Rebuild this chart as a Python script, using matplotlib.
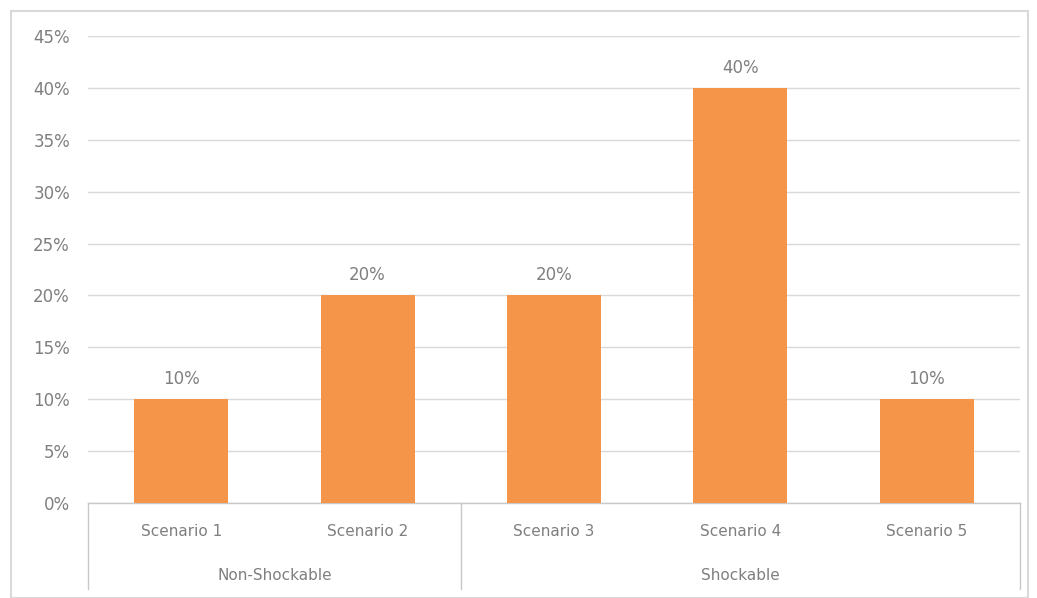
import matplotlib.pyplot as plt
from matplotlib.patches import Rectangle
from matplotlib.lines import Line2D

scenarios = ['Scenario 1', 'Scenario 2', 'Scenario 3', 'Scenario 4', 'Scenario 5']
values = [10, 20, 20, 40, 10]
groups = ['Non-Shockable', 'Shockable']
group_sizes = [2, 3]
yticks = [0, 5, 10, 15, 20, 25, 30, 35, 40, 45]

bar_color = '#F5954A'
text_color = '#7F7F7F'
grid_color = '#D9D9D9'

fig = plt.figure(figsize=(10.37, 5.98), dpi=100)
ax = fig.add_axes([88 / 1037, 1 - 503 / 598, (1020 - 88) / 1037, (503 - 36) / 598])

x = list(range(len(scenarios)))
ax.bar(x, values, width=0.505, color=bar_color, zorder=3)
ax.set_xlim(-0.5, len(scenarios) - 0.5)
ax.set_ylim(0, 45)
ax.set_yticks(yticks)
ax.set_yticklabels([f'{v}%' for v in yticks], color=text_color, fontsize=12)
ax.tick_params(axis='y', length=0, pad=13)
ax.set_xticks([])
ax.grid(axis='y', color=grid_color, linewidth=1, zorder=0)
for s in ['top', 'right', 'left']:
    ax.spines[s].set_visible(False)
ax.spines['bottom'].set_color('#C8C8C8')
ax.spines['bottom'].set_linewidth(1)

for xi, v in zip(x, values):
    ax.annotate(f'{v}%', (xi, v), xytext=(0, 8), textcoords='offset points',
                ha='center', va='bottom', color=text_color, fontsize=12)

# category labels and group labels below the axis
trans = ax.get_xaxis_transform()
for xi, name in zip(x, scenarios):
    ax.text(xi, -29 / 467, name, transform=trans, ha='center', va='center',
            color=text_color, fontsize=11)

start = -0.5
seps = [start]
for g, n in zip(groups, group_sizes):
    end = start + n
    ax.text((start + end) / 2, -72 / 467, g, transform=trans, ha='center', va='center',
            color=text_color, fontsize=11)
    seps.append(end)
    start = end
for s in seps:
    ax.add_line(Line2D([s, s], [0, -86 / 467], transform=trans, color='#C8C8C8',
                       linewidth=1, clip_on=False))

# outer chart border
fig.patches.append(Rectangle((11 / 1037, 0), 1017 / 1037, 1 - 11 / 598,
                             transform=fig.transFigure, fill=False,
                             edgecolor='#D9D9D9', linewidth=1.5))

fig.savefig('out.png', dpi=100)
